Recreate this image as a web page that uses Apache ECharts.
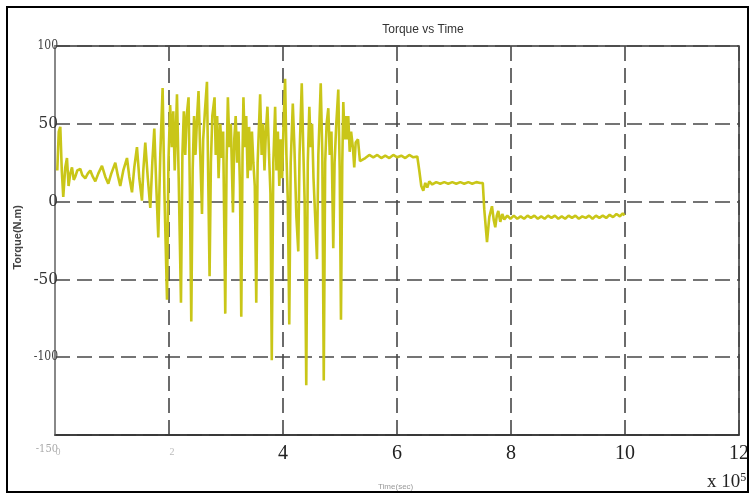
<!DOCTYPE html>
<html>
<head>
<meta charset="utf-8">
<script src="https://cdn.jsdelivr.net/npm/echarts@6/dist/echarts.min.js"></script>
<style>
html,body{margin:0;padding:0;background:#fff;}
#chart{width:753px;height:498px;}
</style>
</head>
<body>
<div id="chart"></div>
<script>
// Time in units of 10^5 s
var timeVals = [
0.04,0.066,0.093,0.119,0.145,0.18,0.21,0.238,0.268,0.298,
0.329,0.356,0.391,0.444,0.479,0.531,0.575,0.619,0.663,0.707,
0.759,0.824,0.882,0.935,0.987,1.058,1.101,1.145,1.198,1.263,
1.303,1.351,1.391,1.438,1.479,1.526,1.549,1.584,1.628,1.672,
1.707,1.742,1.777,
1.812,1.847,1.888,1.92,1.965,1.99,2.02,2.05,2.075,2.10,
2.14,2.17,2.21,2.235,2.26,2.285,2.31,2.343,2.365,2.391,
2.415,2.44,2.465,2.49,2.518,2.545,2.579,2.60,2.63,2.666,
2.69,2.712,2.735,2.76,2.799,2.82,2.845,2.87,2.90,2.925,
2.95,2.987,3.01,3.033,3.06,3.085,3.122,3.145,3.17,3.195,
3.22,3.245,3.268,3.29,3.306,3.33,3.355,3.38,3.405,3.43,
3.455,3.48,3.505,3.531,3.555,3.599,3.625,3.65,3.675,3.70,
3.727,3.755,3.78,3.803,3.83,3.862,3.885,3.91,3.935,3.96,
3.985,4.01,4.037,4.06,4.085,4.11,4.135,4.172,4.20,4.235,
4.268,4.29,4.329,4.355,4.38,4.408,4.435,4.462,4.485,4.51,
4.535,4.565,4.596,4.62,4.662,4.69,4.715,4.74,4.765,4.795,
4.82,4.85,4.882,4.905,4.935,4.97,4.995,5.017,5.04,5.058,
5.08,5.10,5.125,5.145,5.17,5.195,5.228,5.25,5.275,5.315,
5.35,
5.444,5.514,5.584,5.654,5.724,5.794,5.865,5.935,6.005,
6.075,6.145,6.215,6.286,6.356,
6.391,6.426,6.461,6.496,6.531,6.566,6.619,6.689,6.759,6.829,
6.9,6.97,7.04,7.11,7.18,7.251,7.321,7.391,7.461,7.505,
7.531,7.579,7.619,7.666,7.698,7.724,7.751,7.777,7.812,7.847,
7.882,7.935,
7.99,8.05,8.11,8.17,8.23,8.29,8.35,8.41,8.47,8.53,
8.59,8.65,8.71,8.77,8.83,8.89,8.95,9.01,9.07,9.13,
9.19,9.25,9.31,9.37,9.43,9.49,9.55,9.61,9.67,9.73,
9.79,9.85,9.91,9.96,9.99
];
// Torque in N.m
var torqueVals = [
20,45,48,20,3,22,28,10,18,22,
14,16,20,21,17,15,18,20,16,13,
18,23,16,11.5,18,25,17,10,20,28,
16,6,22,35,15,0.6,20,38,15,-4,
25,47,10,
-23,30,73,5,-63,25,62,35,58,20,
69,15,-65,30,58,30,55,67,10,-77,
20,55,30,52,71,35,-8,40,58,77,
10,-48,25,55,67,30,55,15,50,28,
45,-72,25,67,35,50,-7,40,55,25,
45,10,-74,30,67,35,55,15,48,20,
45,25,10,-65,25,69,30,50,20,45,
61,30,5,-102,25,61,20,45,10,40,
15,50,79,30,0,-79,25,63,35,-10,
-32,30,76,35,0,-118,25,61,35,50,
15,-10,-37,30,76,30,-115,25,50,60,
30,45,-30,25,50,72,20,-76,25,64,
40,55,40,55,32,45,34,22,38,40,
26,
28,30,28.5,30,28,29.5,28,30,28.5,
29.5,28,30,28.5,29,
20,10,7,12,9,13,11,12.5,11.5,12.5,
11.5,12.5,11.5,12.5,11.5,12.5,11.5,12.5,12,12,
-5,-26,-10,-3,-12,-16.5,-9,-6,-13,-8,
-11.5,-9,
-11,-9,-11,-9.5,-11,-9,-10.5,-9,-11,-9.5,
-11,-9,-10.5,-9,-11,-9.5,-11,-9,-10.5,-9,
-11,-9.5,-10.5,-9,-11,-9,-10.5,-9,-10.5,-8.5,
-10,-8,-9.5,-7.5,-9
];
var xTicks = [0, 2, 4, 6, 8, 10, 12];
var yTicks = [-150, -100, -50, 0, 50, 100];

var seriesData = timeVals.map(function (t, i) { return [t, torqueVals[i]]; });

var chart = echarts.init(document.getElementById('chart'), null, {renderer: 'canvas'});
var gridDash = {color: '#474747', width: 1.6, type: [15, 7]};
chart.setOption({
  backgroundColor: '#fff',
  animation: false,
  title: {
    text: 'Torque vs Time',
    left: 418, top: 19, textAlign: 'center',
    textStyle: {fontFamily: 'Liberation Sans', fontSize: 12, fontWeight: 'normal', color: '#333'}
  },
  grid: {left: 55, top: 46, width: 684, height: 389, show: true, borderColor: '#333', borderWidth: 1.5, backgroundColor: '#fff'},
  xAxis: {
    type: 'value', min: xTicks[0], max: xTicks[xTicks.length - 1], interval: 2,
    axisLine: {show: true, onZero: false, lineStyle: {color: '#333', width: 1.5}},
    axisTick: {show: false},
    splitLine: {show: true, lineStyle: gridDash},
    axisLabel: {
      margin: 9,
      formatter: function (v) {
        if (v === 0) return '{f|0}';
        if (v === 2) return '{f|2}';
        return '{b|' + v + '}';
      },
      rich: {
        b: {fontFamily: 'Liberation Serif', fontSize: 20, color: '#222'},
        f: {fontFamily: 'Liberation Serif', fontSize: 10, color: '#bbb', padding: [3, 0, 0, 6]}
      }
    }
  },
  yAxis: {
    type: 'value', min: yTicks[0], max: yTicks[yTicks.length - 1], interval: 50,
    axisLine: {show: true, onZero: false, lineStyle: {color: '#888', width: 2}},
    axisTick: {show: false},
    splitLine: {show: true, lineStyle: gridDash},
    axisLabel: {
      margin: -3,
      formatter: function (v) {
        if (v === -150) return '{f|-150}';
        if (v === 100 || v === -100) return '{s|' + v + '}';
        return '{b|' + v + '}';
      },
      rich: {
        b: {fontFamily: 'DejaVu Serif Condensed', fontSize: 17, color: '#333'},
        s: {fontFamily: 'DejaVu Serif Condensed', fontSize: 12, color: '#444'},
        f: {fontFamily: 'DejaVu Serif Condensed', fontSize: 11, color: '#aaa', padding: [28, 0, 0, 0]}
      }
    }
  },
  series: [{
    type: 'line',
    data: seriesData,
    showSymbol: false,
    lineStyle: {color: '#c9c618', width: 2.6},
    z: 3
  }],
  graphic: [
    {type: 'rect', shape: {x: 7, y: 7, width: 741, height: 485}, style: {fill: 'none', stroke: '#000', lineWidth: 2}, z: 100},
    {type: 'text', left: 12, top: 205, rotation: Math.PI / 2,
     style: {text: 'Torque(N.m)', font: 'bold 11px "Liberation Sans"', fill: '#444'}},
    {type: 'text', left: 378, top: 483,
     style: {text: 'Time(sec)', font: '8px "Liberation Sans"', fill: '#999'}},
    {type: 'text', left: 707, top: 472,
     style: {text: '{a|x 10}{s|5}', rich: {
       a: {fontFamily: 'Liberation Serif', fontSize: 19, fill: '#222', verticalAlign: 'bottom'},
       s: {fontFamily: 'Liberation Serif', fontSize: 12, fill: '#222', verticalAlign: 'top', padding: [0, 0, 8, 0]}
     }}}
  ]
});
</script>
</body>
</html>
